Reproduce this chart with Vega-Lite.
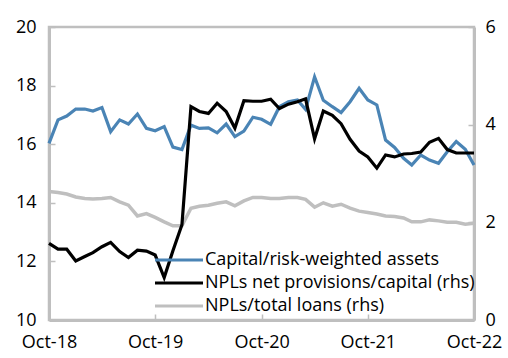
{
  "$schema": "https://vega.github.io/schema/vega-lite/v6.json",
  "width": 425,
  "height": 293,
  "autosize": "none",
  "padding": {"left": 49, "top": 27, "right": 34, "bottom": 38},
  "config": {
    "font": "Open Sans",
    "view": {"stroke": "#BFBFBF", "strokeWidth": 2.5},
    "axis": {
      "grid": false,
      "domainColor": "#BFBFBF",
      "domainWidth": 3,
      "tickColor": "#BFBFBF",
      "tickWidth": 1.5,
      "tickSize": -6,
      "labelFontSize": 18,
      "labelColor": "#000000",
      "labelFont": "Open Sans",
      "title": null
    },
    "legend": {
      "orient": "none",
      "legendX": 121,
      "legendY": 224,
      "symbolType": "M -4 0 H 4",
      "symbolSize": 144,
      "symbolStrokeWidth": 3,
      "labelFontSize": 18,
      "labelFont": "Open Sans",
      "labelColor": "#000000",
      "labelOffset": 17,
      "labelLimit": 400,
      "rowPadding": 5,
      "title": null
    }
  },
  "data": {
    "values": [
      {"d": "2018-10-01", "cap": 16.03, "prov": 1.57, "npl": 2.63},
      {"d": "2018-11-01", "cap": 16.83, "prov": 1.45, "npl": 2.61},
      {"d": "2018-12-01", "cap": 16.96, "prov": 1.45, "npl": 2.58},
      {"d": "2019-01-01", "cap": 17.2, "prov": 1.21, "npl": 2.52},
      {"d": "2019-02-01", "cap": 17.2, "prov": 1.3, "npl": 2.49},
      {"d": "2019-03-01", "cap": 17.13, "prov": 1.38, "npl": 2.48},
      {"d": "2019-04-01", "cap": 17.25, "prov": 1.5, "npl": 2.49},
      {"d": "2019-05-01", "cap": 16.43, "prov": 1.59, "npl": 2.51},
      {"d": "2019-06-01", "cap": 16.83, "prov": 1.4, "npl": 2.42},
      {"d": "2019-07-01", "cap": 16.69, "prov": 1.28, "npl": 2.35},
      {"d": "2019-08-01", "cap": 17.03, "prov": 1.43, "npl": 2.13},
      {"d": "2019-09-01", "cap": 16.54, "prov": 1.41, "npl": 2.18},
      {"d": "2019-10-01", "cap": 16.46, "prov": 1.33, "npl": 2.1},
      {"d": "2019-11-01", "cap": 16.6, "prov": 0.87, "npl": 2.01},
      {"d": "2019-12-01", "cap": 15.9, "prov": 1.42, "npl": 1.93},
      {"d": "2020-01-01", "cap": 15.82, "prov": 1.95, "npl": 1.93},
      {"d": "2020-02-01", "cap": 16.65, "prov": 4.37, "npl": 2.29},
      {"d": "2020-03-01", "cap": 16.54, "prov": 4.27, "npl": 2.33},
      {"d": "2020-04-01", "cap": 16.56, "prov": 4.23, "npl": 2.35},
      {"d": "2020-05-01", "cap": 16.39, "prov": 4.44, "npl": 2.39},
      {"d": "2020-06-01", "cap": 16.69, "prov": 4.27, "npl": 2.42},
      {"d": "2020-07-01", "cap": 16.26, "prov": 3.93, "npl": 2.34},
      {"d": "2020-08-01", "cap": 16.45, "prov": 4.49, "npl": 2.44},
      {"d": "2020-09-01", "cap": 16.92, "prov": 4.48, "npl": 2.51},
      {"d": "2020-10-01", "cap": 16.85, "prov": 4.48, "npl": 2.51},
      {"d": "2020-11-01", "cap": 16.68, "prov": 4.52, "npl": 2.49},
      {"d": "2020-12-01", "cap": 17.28, "prov": 4.33, "npl": 2.49},
      {"d": "2021-01-01", "cap": 17.45, "prov": 4.42, "npl": 2.51},
      {"d": "2021-02-01", "cap": 17.51, "prov": 4.47, "npl": 2.51},
      {"d": "2021-03-01", "cap": 17.19, "prov": 4.53, "npl": 2.47},
      {"d": "2021-04-01", "cap": 18.3, "prov": 3.71, "npl": 2.31},
      {"d": "2021-05-01", "cap": 17.5, "prov": 4.28, "npl": 2.4},
      {"d": "2021-06-01", "cap": 17.28, "prov": 4.19, "npl": 2.33},
      {"d": "2021-07-01", "cap": 17.08, "prov": 4.02, "npl": 2.37},
      {"d": "2021-08-01", "cap": 17.45, "prov": 3.7, "npl": 2.29},
      {"d": "2021-09-01", "cap": 17.91, "prov": 3.46, "npl": 2.23},
      {"d": "2021-10-01", "cap": 17.51, "prov": 3.34, "npl": 2.2},
      {"d": "2021-11-01", "cap": 17.34, "prov": 3.11, "npl": 2.17},
      {"d": "2021-12-01", "cap": 16.14, "prov": 3.38, "npl": 2.13},
      {"d": "2022-01-01", "cap": 15.89, "prov": 3.34, "npl": 2.12},
      {"d": "2022-02-01", "cap": 15.52, "prov": 3.4, "npl": 2.09},
      {"d": "2022-03-01", "cap": 15.29, "prov": 3.41, "npl": 2.01},
      {"d": "2022-04-01", "cap": 15.63, "prov": 3.44, "npl": 2.01},
      {"d": "2022-05-01", "cap": 15.46, "prov": 3.64, "npl": 2.05},
      {"d": "2022-06-01", "cap": 15.35, "prov": 3.72, "npl": 2.03},
      {"d": "2022-07-01", "cap": 15.74, "prov": 3.49, "npl": 2.0},
      {"d": "2022-08-01", "cap": 16.09, "prov": 3.42, "npl": 2.0},
      {"d": "2022-09-01", "cap": 15.83, "prov": 3.42, "npl": 1.96},
      {"d": "2022-10-01", "cap": 15.29, "prov": 3.42, "npl": 1.98}
    ]
  },
  "transform": [{"fold": ["cap", "prov", "npl"], "as": ["s", "v"]}],
  "encoding": {
    "x": {
      "field": "d",
      "type": "temporal",
      "scale": {
        "type": "utc",
        "domain": [
          {"year": 2018, "month": 10, "date": 1, "utc": true},
          {"year": 2022, "month": 10, "date": 1, "utc": true}
        ]
      },
      "axis": {
        "values": [
          {"year": 2018, "month": 10, "date": 1, "utc": true},
          {"year": 2019, "month": 10, "date": 1, "utc": true},
          {"year": 2020, "month": 10, "date": 1, "utc": true},
          {"year": 2021, "month": 10, "date": 1, "utc": true},
          {"year": 2022, "month": 10, "date": 1, "utc": true}
        ],
        "format": "%b-%y",
        "labelPadding": 19,
        "labelFlush": false
      }
    },
    "color": {
      "field": "s",
      "type": "nominal",
      "scale": {"domain": ["cap", "prov", "npl"], "range": ["#4A84B5", "#000000", "#BFBFBF"]},
      "legend": {
        "labelExpr": "datum.label == 'cap' ? 'Capital/risk-weighted assets' : datum.label == 'prov' ? 'NPLs net provisions/capital (rhs)' : 'NPLs/total loans (rhs)'"
      }
    }
  },
  "layer": [
    {
      "transform": [{"filter": "datum.s == 'npl'"}],
      "mark": {"type": "line", "strokeWidth": 3.5},
      "encoding": {
        "y": {"field": "v", "type": "quantitative", "scale": {"domain": [0, 6], "nice": false}, "axis": null}
      }
    },
    {
      "transform": [{"filter": "datum.s == 'cap'"}],
      "mark": {"type": "line", "strokeWidth": 3.2},
      "encoding": {
        "y": {
          "field": "v",
          "type": "quantitative",
          "scale": {"domain": [10, 20], "nice": false, "zero": false},
          "axis": {"orient": "left", "values": [10, 12, 14, 16, 18, 20], "labelPadding": 19}
        }
      }
    },
    {
      "transform": [{"filter": "datum.s == 'prov'"}],
      "mark": {"type": "line", "strokeWidth": 3.2},
      "encoding": {
        "y": {
          "field": "v",
          "type": "quantitative",
          "scale": {"domain": [0, 6], "nice": false},
          "axis": {"orient": "right", "values": [0, 2, 4, 6], "labelPadding": 17}
        }
      }
    }
  ],
  "resolve": {"scale": {"y": "independent"}}
}
